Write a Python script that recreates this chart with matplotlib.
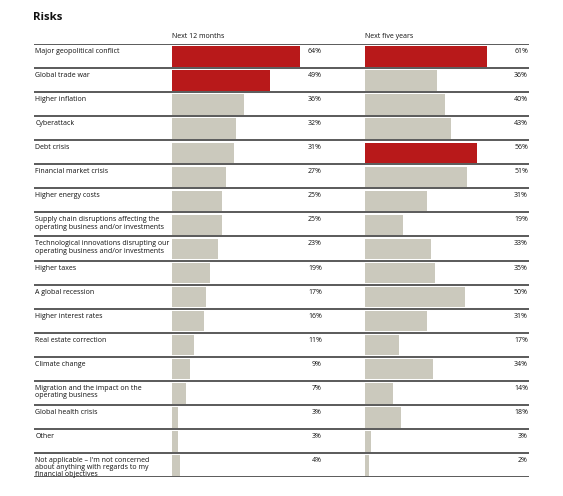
import matplotlib
matplotlib.use("Agg")
import matplotlib.pyplot as plt

categories = [
    "Major geopolitical conflict",
    "Global trade war",
    "Higher inflation",
    "Cyberattack",
    "Debt crisis",
    "Financial market crisis",
    "Higher energy costs",
    "Supply chain disruptions affecting the\noperating business and/or investments",
    "Technological innovations disrupting our\noperating business and/or investments",
    "Higher taxes",
    "A global recession",
    "Higher interest rates",
    "Real estate correction",
    "Climate change",
    "Migration and the impact on the\noperating business",
    "Global health crisis",
    "Other",
    "Not applicable \u2013 I'm not concerned\nabout anything with regards to my\nfinancial objectives",
]
next_12_months = [64, 49, 36, 32, 31, 27, 25, 25, 23, 19, 17, 16, 11, 9, 7, 3, 3, 4]
next_five_years = [61, 36, 40, 43, 56, 51, 31, 19, 33, 35, 50, 31, 17, 34, 14, 18, 3, 2]
highlight_12m = [0, 1]
highlight_5y = [0, 4]
series_titles = ["Next 12 months", "Next five years"]
title = "Risks"

RED = "#B8191A"
GREY = "#CBC9BD"
LINE = "#4d4d4d"
FONT = "Open Sans"
FS = 5.05

W, H = 563, 496
fig = plt.figure(figsize=(W / 100, H / 100), dpi=100)

def fx(px):
    return px / W

def fy(py):
    return 1 - py / H

top_px, bot_px = 44, 477
n = len(categories)

# background axes for lines and labels
bg = fig.add_axes([fx(34), fy(bot_px), fx(529 - 34), fy(top_px) - fy(bot_px)])
bg.set_xlim(0, 1)
bg.set_ylim(n, 0)
bg.axis("off")
for i in range(n + 1):
    bg.axhline(i, color=LINE, lw=1.3, zorder=1)

row_px = (bot_px - top_px) / n
off = 4.0 / row_px
for i, lab in enumerate(categories):
    bg.text(0.003, i + off, lab, fontsize=FS, family=FONT, va="top", ha="left",
            linespacing=1.03, color="#111111")

def panel(x0, x1, values, highlight, head):
    ax = fig.add_axes([fx(x0), fy(bot_px), fx(x1 - x0), fy(top_px) - fy(bot_px)])
    xmax = (x1 - x0) / 2.0
    ax.set_xlim(0, xmax)
    ax.set_ylim(n, 0)
    ax.axis("off")
    cols = [RED if i in highlight else GREY for i in range(n)]
    ax.barh([i + 0.52 for i in range(n)], values, height=0.85, color=cols, zorder=2)
    for i, v in enumerate(values):
        ax.text(xmax, i + off, f"{v}%", fontsize=FS, family=FONT, va="top",
                ha="right", color="#111111")
    fig.text(fx(x0), fy(37), head, fontsize=FS, family=FONT, va="center",
             ha="left", color="#111111")

panel(172, 322, next_12_months, highlight_12m, series_titles[0])
panel(365, 528, next_five_years, highlight_5y, series_titles[1])

fig.text(fx(33), fy(18), title, fontsize=8.2, family=FONT, weight="bold",
         va="center", ha="left", color="#111111")

fig.savefig("out.png", dpi=100)
